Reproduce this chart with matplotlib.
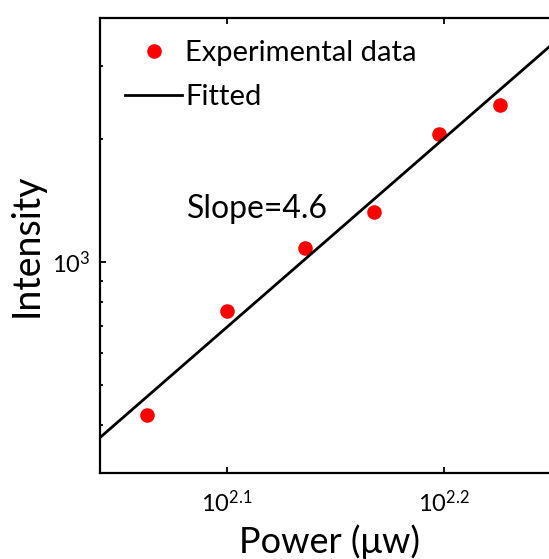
import matplotlib
matplotlib.use("Agg")
import matplotlib.pyplot as plt
from matplotlib.ticker import FixedLocator, NullLocator, FixedFormatter

# Data
power = [115.6, 125.9, 136.7, 147.2, 157.6, 168.2]
intensity = [423, 760, 1083, 1324, 2051, 2415]
fit_power = [107.2, 182.0]
fit_intensity = [331, 3784]

x_ticks = [10**2.1, 10**2.2]
x_ticklabels = [r"$10^{2.1}$", r"$10^{2.2}$"]
y_ticks = [1000]
y_ticklabels = [r"$10^{3}$"]
y_minor = [400, 500, 600, 700, 800, 900, 2000, 3000]

plt.rcParams["font.family"] = ["Lato", "DejaVu Sans"]
plt.rcParams["mathtext.fontset"] = "custom"
plt.rcParams["mathtext.rm"] = "Lato"
plt.rcParams["mathtext.it"] = "Lato"
plt.rcParams["mathtext.default"] = "regular"

W, H = 549, 559
fig = plt.figure(figsize=(W / 100, H / 100), dpi=100)
ax = fig.add_axes([100 / W, (H - 473) / H, (560 - 100) / W, (473 - 18) / H])

ax.plot(power, intensity, "o", color="#ff0000", markersize=10.5,
        markeredgewidth=0, label="Experimental data")
ax.plot(fit_power, fit_intensity, "-", color="black", linewidth=2.0,
        label="Fitted")

ax.set_xscale("log")
ax.set_yscale("log")
ax.set_xlim(10**2.0415, 10**2.2535)
ax.set_ylim(10**2.4854, 10**3.5951)

ax.xaxis.set_major_locator(FixedLocator(x_ticks))
ax.xaxis.set_major_formatter(FixedFormatter(x_ticklabels))
ax.xaxis.set_minor_locator(NullLocator())
ax.yaxis.set_major_locator(FixedLocator(y_ticks))
ax.yaxis.set_major_formatter(FixedFormatter(y_ticklabels))
ax.yaxis.set_minor_locator(FixedLocator(y_minor))
ax.yaxis.set_minor_formatter(FixedFormatter([""] * len(y_minor)))

ax.tick_params(which="both", direction="in", top=True, right=True,
               labelsize=17, width=1.3)
ax.tick_params(which="major", length=4.5)
ax.tick_params(axis="x", which="major", pad=12)
ax.tick_params(axis="y", which="major", pad=7)
ax.tick_params(which="minor", length=2.5)
for s in ax.spines.values():
    s.set_linewidth(1.6)

ax.set_xlabel("Power (\u03bcw)", fontsize=26, labelpad=6)
ax.set_ylabel("Intensity", fontsize=27, labelpad=5)

ax.text(10**2.0815, 10**3.13, "Slope=4.6", fontsize=23, va="center", ha="left")

leg = ax.legend(loc="upper left", bbox_to_anchor=(0.03, 0.977), frameon=False,
                fontsize=21, handlelength=1.95, handletextpad=0.1,
                labelspacing=0.62, borderaxespad=0)

fig.savefig("out.png", dpi=100)
